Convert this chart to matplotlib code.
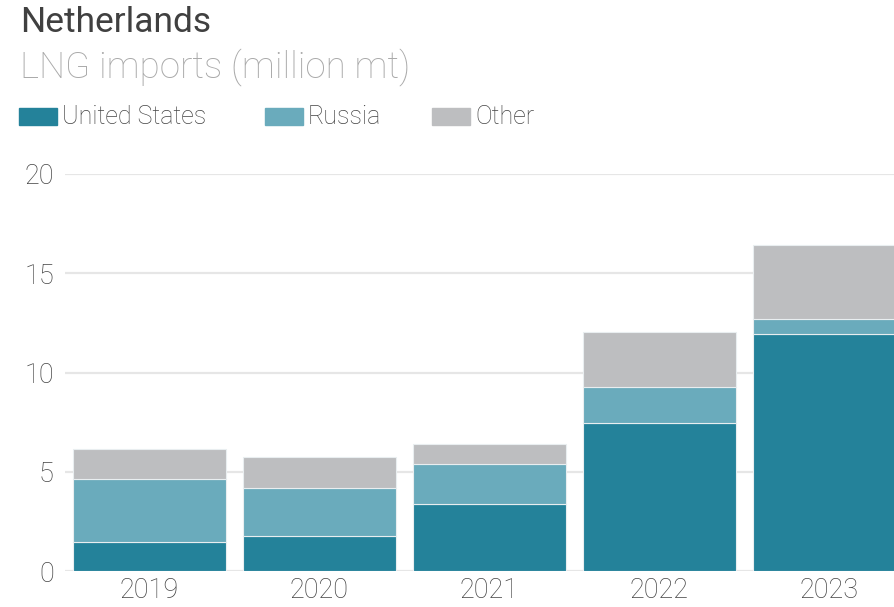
import matplotlib.pyplot as plt
from matplotlib.patches import Rectangle
import numpy as np

years = ["2019", "2020", "2021", "2022", "2023"]
united_states = [1.45, 1.78, 3.36, 7.47, 11.94]
russia = [3.17, 2.42, 2.01, 1.81, 0.76]
other = [1.51, 1.53, 1.01, 2.78, 3.72]

series = [
    ("United States", united_states, "#24829a"),
    ("Russia", russia, "#6aabbc"),
    ("Other", other, "#bdbec0"),
]

plt.rcParams["font.family"] = ["Roboto", "DejaVu Sans"]

fig = plt.figure(figsize=(8.94, 6.07), dpi=100)
ax = fig.add_axes([65 / 894, 1 - 571 / 607, 1 - 65 / 894, (571 - 174) / 607])

x = np.arange(len(years))
bottom = np.zeros(len(years))
for name, vals, color in series:
    ax.bar(x, vals, bottom=bottom, width=0.9, color=color,
           edgecolor="#e9eef0", linewidth=0.8, zorder=3)
    bottom += np.asarray(vals)

ax.set_ylim(0, 20)
ax.set_xlim(-0.497, 4.38)
ax.set_yticks([0, 5, 10, 15, 20])
ax.set_xticks(x)
ax.set_xticklabels(years)
ax.yaxis.grid(True, color="#e6e6e6", linewidth=1.6, zorder=0)
ax.tick_params(axis="both", length=0, labelsize=19.5, labelcolor="#444444")
ax.tick_params(axis="y", pad=8)
ax.tick_params(axis="x", pad=4)
for lbl in ax.get_xticklabels() + ax.get_yticklabels():
    lbl.set_fontweight("light")
for s in ax.spines.values():
    s.set_visible(False)
ax.set_axisbelow(True)

fig.text(20 / 894, 1 - 32 / 607, "Netherlands", fontsize=25.5, color="#404040")
fig.text(20 / 894, 1 - 77 / 607, "LNG imports (million mt)", fontsize=26.5,
         color="#aaaaaa", fontweight="light")

# legend swatches
for (name, _, color), px in zip(series, [19, 265, 432]):
    fig.patches.append(Rectangle((px / 894, 1 - 125 / 607), 38 / 894, 17 / 607,
                                 transform=fig.transFigure, color=color))
    fig.text((px + 43) / 894, 1 - 117 / 607, name, fontsize=18,
             color="#444444", va="center", fontweight="light")

fig.savefig("out.png", dpi=100)
